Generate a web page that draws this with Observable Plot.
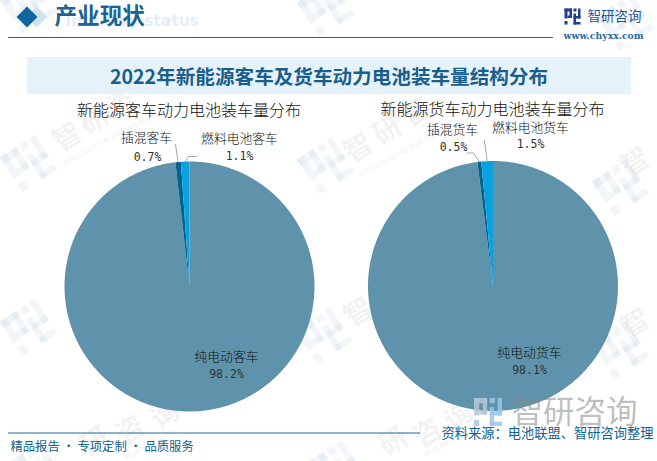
<!DOCTYPE html>
<html><head><meta charset="utf-8">
<script src="https://cdn.jsdelivr.net/npm/d3@7"></script>
<script src="https://cdn.jsdelivr.net/npm/@observablehq/plot@0.6"></script>
<style>html,body{margin:0;padding:0;background:#fff}svg{display:block}</style>
</head><body><div id="chart"></div>
<script>
const busCategories = ["纯电动客车", "插混客车", "燃料电池客车"];
const busValues = [98.2, 0.7, 1.1];
const truckCategories = ["纯电动货车", "插混货车", "燃料电池货车"];
const truckValues = [98.1, 0.5, 1.5];
const chartTitle = "2022年新能源客车及货车动力电池装车量结构分布";
const busTitle = "新能源客车动力电池装车量分布";
const truckTitle = "新能源货车动力电池装车量分布";
const sliceColors = ["#5F93AB", "#04628F", "#0AA2DE"];

const sans = "'Noto Sans CJK SC','Noto Sans',sans-serif";
const mono = "'DejaVu Sans Mono',monospace";
const R = 125;
const pies = [
  {cx: 189, cy: 286, cats: busCategories, vals: busValues,
   labels: [[226,356,226,374],[146,137,147,157],[239,138,239,156]],
   leaders: [null,[[175,144]],[[188,156],[196,156]]]},
  {cx: 492.5, cy: 285.5, cats: truckCategories, vals: truckValues,
   labels: [[529,352,529,370],[452,129,453,147],[530,127,530,144]],
   leaders: [null,[[473,152.5],[467,152.5]],[[484,140]]]}
];

const sectorPts = [], nameRows = [], valueRows = [], leaderPts = [];
pies.forEach((p, pi) => {
  const arcs = d3.pie().sort(null).value(v => v)(p.vals);
  arcs.forEach((a, i) => {
    const key = pi + "-" + i;
    const n = Math.max(2, Math.ceil((a.endAngle - a.startAngle) / 0.01));
    sectorPts.push({key, kind: i, x: p.cx, y: p.cy});
    for (let k = 0; k <= n; k++) {
      const t = a.startAngle + (a.endAngle - a.startAngle) * k / n;
      sectorPts.push({key, kind: i, x: p.cx + R * Math.sin(t), y: p.cy - R * Math.cos(t)});
    }
    sectorPts.push({key, kind: i, x: p.cx, y: p.cy});
    const [nx, ny, vx, vy] = p.labels[i];
    nameRows.push({x: nx, y: ny, t: p.cats[i]});
    valueRows.push({x: vx, y: vy, t: p.vals[i].toFixed(1) + "%"});
    if (p.leaders[i]) {
      const m = (a.startAngle + a.endAngle) / 2;
      leaderPts.push({key, x: p.cx + R * Math.sin(m), y: p.cy - R * Math.cos(m)});
      p.leaders[i].forEach(([x, y]) => leaderPts.push({key, x, y}));
    }
  });
});

// brand logo as blocks in a 16x16 unit cell
const logoLeft = [[0,0,7.5,3],[0,0,3,10],[0,12.5,3,16],[5,0,7.5,9.5],[3,7,7.5,9.5]];
const logoRight = [[9,0,12,3],[13.5,0,16,10],[9,7.5,16,10],[9,5,11.5,16],[9,13.5,16,16]];
const logoCells = logoLeft.concat(logoRight);
const logoRects = (cells, ox, oy, s) => cells.map(([a,b,c,d]) => ({x1: ox+a*s, x2: ox+c*s, y1: oy+b*s, y2: oy+d*s}));

// faint tiled watermark
const wmAngle = -33 * Math.PI / 180;
const wmLogos = [[28,163],[28,327],[325,165],[323,335],[620,187],[620,350],[28,5],[325,8],[625,22],[34,470],[335,468]];
const wmPolys = wmLogos.flatMap(([cx,cy], li) => logoCells.map(([a,b,c,d], ci) =>
  [[a,b],[c,b],[c,d],[a,d],[a,b]].map(([u,v]) => {
    const px = (u-8)*2.6, py = (v-8)*2.6;
    return {key: li+"-"+ci, x: cx + px*Math.cos(wmAngle) - py*Math.sin(wmAngle), y: cy + px*Math.sin(wmAngle) + py*Math.cos(wmAngle)};
  }))).flat();
const wmChars = [
  ["智",67,137],["研",94,120],["咨",121,103],
  ["智",358,148],["研",387,130],["咨",415,112],
  ["智",635,162],["智",635,323],["智",358,312],
  ["研",95,441],["咨",130,430],["询",165,415],
  ["研",393,441],["咨",427,433],["询",458,416]
];
const wmSubs = [["INTELLIGENCE RESEARCH GROUP",108,139],["INTELLIGENCE RESEARCH GROUP",405,150],["RESEARCH GROUP",150,444],["RESEARCH GROUP",450,441]];

const diamond = (cx, cy, r) => [[cx,cy-r],[cx+r,cy],[cx,cy+r],[cx-r,cy],[cx,cy-r]].map(([x,y]) => ({x,y}));

const chart = Plot.plot({
  width: 657, height: 461, margin: 0,
  x: {domain: [0,657], range: [0,657], axis: null},
  y: {domain: [0,461], range: [0,461], axis: null},
  color: {domain: [0,1,2], range: sliceColors},
  style: {background: "#fff"},
  marks: [
    Plot.line(wmPolys, {x:"x",y:"y",z:"key",fill:"#7FA6C6",fillOpacity:.1,stroke:"none"}),
    Plot.text(wmChars, {x:d=>d[1],y:d=>d[2],text:d=>d[0],rotate:-33,fontSize:28,fontFamily:sans,fill:"#777",fillOpacity:.1,fontWeight:700}),
    Plot.text(wmSubs, {x:d=>d[1],y:d=>d[2],text:d=>d[0],rotate:-28,fontSize:6.6,fontFamily:sans,fill:"#777",fillOpacity:.16}),

    Plot.line(diamond(36,16.5,10.5), {x:"x",y:"y",fill:"#CFE2F0",stroke:"none"}),
    Plot.line(diamond(26.5,16.5,10.5), {x:"x",y:"y",fill:"#11659E",stroke:"none"}),
    Plot.text(["Industry status"], {x:65,y:21,text:d=>d,textAnchor:"start",fontSize:15.5,fontWeight:700,fontFamily:"'DejaVu Sans',sans-serif",fill:"#E3EFF8"}),
    Plot.text(["产业现状"], {x:54,y:16.5,text:d=>d,textAnchor:"start",fontSize:22.6,fontWeight:700,fontFamily:sans,fill:"#1B6390"}),
    Plot.ruleY([37], {x1:8,x2:553,stroke:"#1D6A93",strokeWidth:1.2}),

    Plot.rect(logoRects(logoCells,564.5,8.5,1), {x1:"x1",x2:"x2",y1:"y1",y2:"y2",fill:"#1F3F8F"}),
    Plot.text(["智研咨询"], {x:587,y:16,text:d=>d,textAnchor:"start",fontSize:13.5,fontFamily:sans,fill:"#1F5596"}),
    Plot.text(["www.chyxx.com"], {x:563,y:36,text:d=>d,textAnchor:"start",fontSize:9.3,fontWeight:700,fontFamily:"'DejaVu Serif',serif",fill:"#2C6A9A"}),

    Plot.rect([0], {x1:27,x2:631,y1:57,y2:94,fill:"#E6F2FA"}),
    Plot.text([chartTitle], {x:328.5,y:77,text:d=>d,fontSize:19.6,fontWeight:700,fontFamily:sans,fill:"#1A5E8C"}),
    Plot.text([busTitle], {x:188.5,y:110,text:d=>d,fontSize:16,fontFamily:sans,fontWeight:300,fill:"#111"}),
    Plot.text([truckTitle], {x:492,y:109,text:d=>d,fontSize:16,fontFamily:sans,fontWeight:300,fill:"#111"}),

    Plot.line(sectorPts, {x:"x",y:"y",z:"key",fill:"kind",stroke:"none"}),
    Plot.line(leaderPts, {x:"x",y:"y",z:"key",stroke:"#A6A6A6",strokeWidth:1}),
    Plot.text(nameRows, {x:"x",y:"y",text:"t",fontSize:12.8,fontFamily:sans,fontWeight:300,fill:"#111"}),
    Plot.text(valueRows, {x:"x",y:"y",text:"t",fontSize:11.5,fontFamily:mono,fill:"#333"}),

    Plot.rect(logoRects(logoLeft,474,398,1.75), {x1:"x1",x2:"x2",y1:"y1",y2:"y2",fill:"#B3C4D8",fillOpacity:.85}),
    Plot.rect(logoRects(logoRight,474,398,1.75), {x1:"x1",x2:"x2",y1:"y1",y2:"y2",fill:"#9CC6EA",fillOpacity:.85}),
    Plot.text(["智研咨询"], {x:511,y:412,text:d=>d,textAnchor:"start",fontSize:31.5,fontFamily:sans,fill:"#888",fillOpacity:.55}),

    Plot.ruleY([432.5], {x1:8,x2:420,stroke:"#1D6A93",strokeWidth:1}),
    Plot.text(["精品报告 · 专项定制 · 品质服务"], {x:10,y:447,text:d=>d,textAnchor:"start",fontSize:12.3,fontFamily:sans,fill:"#0F6294"}),
    Plot.text(["资料来源：电池联盟、智研咨询整理"], {x:441,y:433,text:d=>d,textAnchor:"start",fontSize:13.25,fontFamily:sans,fill:"#0F6294"})
  ]
});
document.getElementById("chart").appendChild(chart);
</script></body></html>
